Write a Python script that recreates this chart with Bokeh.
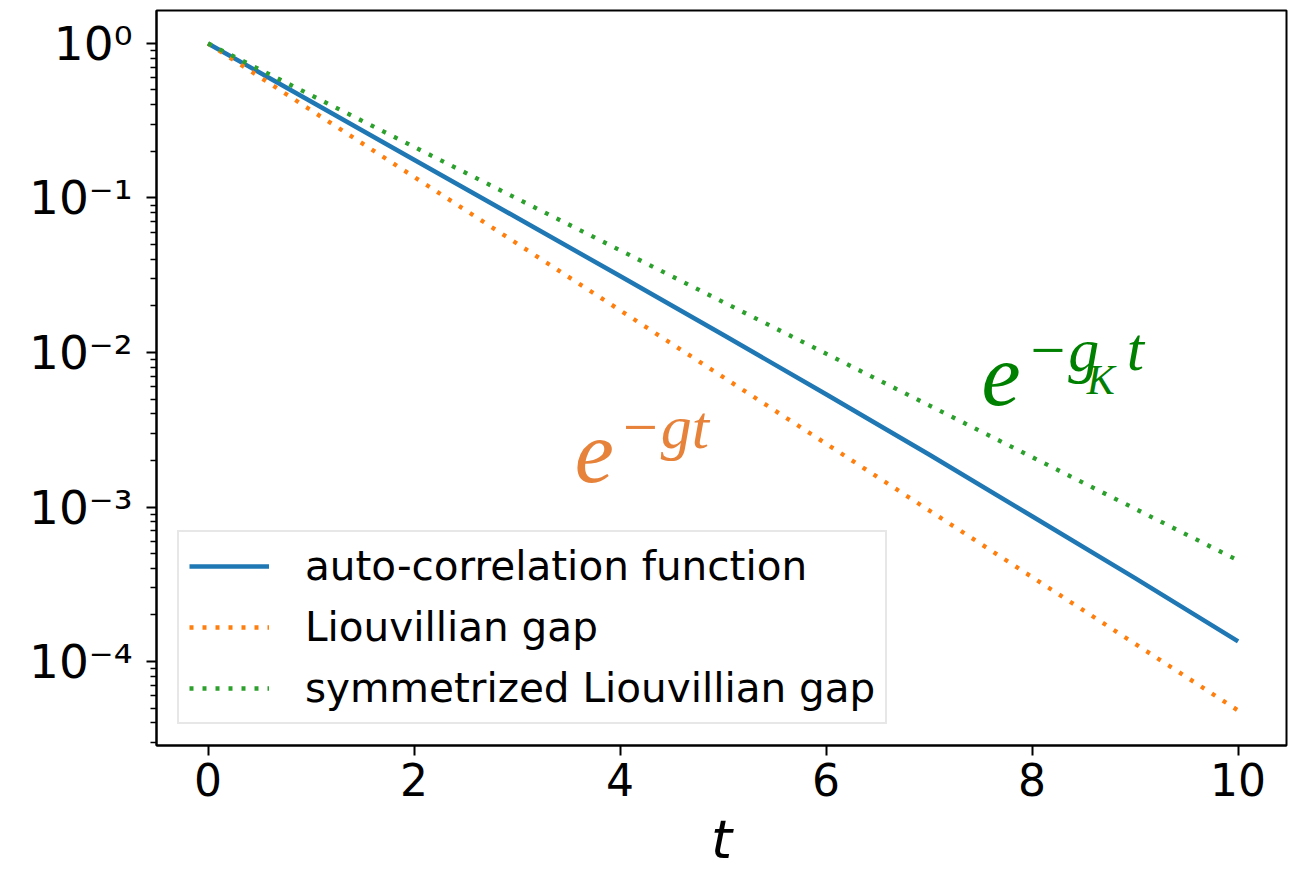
from bokeh.plotting import figure
from bokeh.models import (Label, Legend, LegendItem, FixedTicker, Range1d,
                          CustomJSTickFormatter)
from bokeh.embed import file_html
from bokeh.resources import INLINE

# ---- data ----
t = [0, 1, 2, 3, 4, 5, 6, 7, 8, 9, 10]
acf = [1.0, 0.4217, 0.1770, 0.07447, 0.03126, 0.01303, 0.005370, 0.002188,
       0.000871, 0.0003467, 0.000135]
liouv_gap = [1.0, 0.370, 0.1370, 0.0507, 0.01876, 0.00694, 0.002569,
             0.000951, 0.000352, 0.0001302, 0.0000482]
sym_gap = [1.0, 0.463, 0.2142, 0.0991, 0.0459, 0.02123, 0.00983, 0.00455,
           0.002104, 0.000974, 0.000451]
labels = ["auto-correlation function", "Liouvillian gap",
          "symmetrized Liouvillian gap"]
x_ticks = [0, 2, 4, 6, 8, 10]
y_exps = [0, -1, -2, -3, -4]

p = figure(width=1304, height=875, y_axis_type="log",
           x_range=Range1d(-0.5, 10.47), y_range=Range1d(2.86e-5, 1.635),
           output_backend="svg", toolbar_location=None,
           min_border_left=156, min_border_right=18,
           min_border_top=10, min_border_bottom=130)
p.grid.visible = False
p.outline_line_color = "black"
p.outline_line_width = 2
p.background_fill_color = "white"
p.border_fill_color = "white"

r1 = p.line(t, acf, line_color="#1f77b4", line_width=4.5)
r2 = p.line(t, liouv_gap, line_color="#ff7f0e", line_width=4.3,
            line_dash="4 9", line_cap="butt")
r3 = p.line(t, sym_gap, line_color="#2ca02c", line_width=4.3,
            line_dash="4 9", line_cap="butt")

# x axis
xa = p.xaxis[0]
xa.ticker = FixedTicker(ticks=x_ticks, minor_ticks=[])
xa.major_label_text_font = "DejaVu Sans"
xa.major_label_text_font_size = "44px"
xa.major_label_text_color = "black"
xa.major_label_standoff = 7
xa.major_tick_out = 10
xa.major_tick_in = 0
xa.major_tick_line_width = 2
xa.axis_line_width = 2
xa.axis_label = "t"
xa.axis_label_text_font = "DejaVu Sans"
xa.axis_label_text_font_style = "italic"
xa.axis_label_text_font_size = "54px"
xa.axis_label_text_color = "black"
xa.axis_label_standoff = 9

# y axis
ya = p.yaxis[0]
minor = [m * 10.0 ** e for e in range(-5, 1) for m in range(2, 10)]
ya.ticker = FixedTicker(ticks=[10.0 ** e for e in y_exps], minor_ticks=minor)
ya.formatter = CustomJSTickFormatter(code="""
const e = Math.round(Math.log10(tick));
const sup = {"0": "\u2070", "1": "\u00b9", "2": "\u00b2", "3": "\u00b3",
             "4": "\u2074", "5": "\u2075", "6": "\u2076", "7": "\u2077",
             "8": "\u2078", "9": "\u2079", "-": "\u207b"};
return "10" + String(e).split("").map(c => sup[c]).join("");
""")
ya.major_label_text_font = "DejaVu Sans"
ya.major_label_text_font_size = "47px"
ya.major_label_text_color = "black"
ya.major_label_standoff = 14
ya.major_tick_out = 10
ya.major_tick_in = 0
ya.minor_tick_out = 6
ya.minor_tick_in = 0
ya.major_tick_line_width = 2
ya.minor_tick_line_width = 1.5
ya.axis_line_width = 2

# math annotations
ORANGE = "#E6823A"
GREEN = "#008000"
SERIF = "Liberation Serif"
def ann(x, logy, txt, size, color):
    p.add_layout(Label(x=x, y=10 ** logy, text=txt, text_font=SERIF,
                       text_font_style="italic", text_font_size=size,
                       text_color=color, text_baseline="alphabetic"))

ann(3.56, -2.652, "e", "88px", ORANGE)
ann(3.99, -2.480, "\u2212gt", "62px", ORANGE)
ann(7.51, -2.150, "e", "88px", GREEN)
ann(7.945, -1.985, "\u2212g", "62px", GREEN)
ann(8.53, -2.175, "K", "42px", GREEN)
ann(8.92, -1.975, "t", "62px", GREEN)

legend = Legend(items=[LegendItem(label=labels[0], renderers=[r1]),
                       LegendItem(label=labels[1], renderers=[r2]),
                       LegendItem(label=labels[2], renderers=[r3])],
                location=(21, 21), orientation="vertical",
                label_text_font="DejaVu Sans", label_text_font_size="40.5px",
                label_text_color="black", label_text_baseline="middle",
                label_height=40, glyph_height=40, glyph_width=80,
                label_standoff=36, spacing=13, padding=10, margin=0,
                border_line_color="#d0d0d0", border_line_width=2.5,
                background_fill_color="white", background_fill_alpha=0.8)
legend.padding = 10
p.add_layout(legend, "center")

open("out.html", "w").write(file_html(p, INLINE))
